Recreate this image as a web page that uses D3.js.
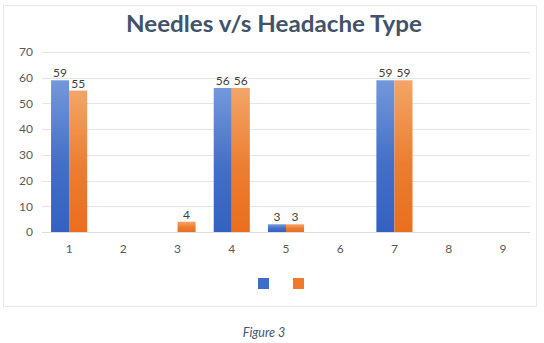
<!DOCTYPE html>
<html>
<head>
<meta charset="utf-8">
<script src="https://cdn.jsdelivr.net/npm/d3@7"></script>
<style>
  html, body { margin: 0; padding: 0; background: #fff; }
  svg { display: block; font-family: Lato, "Open Sans", sans-serif; }
</style>
</head>
<body>
<svg id="chart" width="544" height="343"></svg>
<script>
// Chart data
const categories = ["1", "2", "3", "4", "5", "6", "7", "8", "9"];
const seriesNames = ["Series1", "Series2"];
const series1 = [59, 0, 0, 56, 3, 0, 59, 0, 0];
const series2 = [55, 0, 4, 56, 3, 0, 59, 0, 0];
const yTicks = [0, 10, 20, 30, 40, 50, 60, 70];
const titleText = "Needles v/s Headache Type";
const captionText = "Figure 3";

const seriesValues = [series1, series2];
const colors = [
  { top: "#7398da", bottom: "#3461c1", solid: "#3f6cc6" },
  { top: "#f3a567", bottom: "#e96f1d", solid: "#f07a2a" }
];

const svg = d3.select("#chart");

// Gradients for the bars
const defs = svg.append("defs");
colors.forEach((c, i) => {
  const g = defs.append("linearGradient")
    .attr("id", "grad" + i)
    .attr("x1", 0).attr("y1", 0).attr("x2", 0).attr("y2", 1);
  g.append("stop").attr("offset", "0%").attr("stop-color", c.top);
  g.append("stop").attr("offset", "55%").attr("stop-color", d3.interpolateRgb(c.top, c.bottom)(0.75));
  g.append("stop").attr("offset", "100%").attr("stop-color", c.bottom);
});

// Outer chart frame
svg.append("rect")
  .attr("x", 3.5).attr("y", 5.5)
  .attr("width", 533).attr("height", 301)
  .attr("fill", "#fff")
  .attr("stroke", "#e6e8eb").attr("stroke-width", 1);

// Title
svg.append("text")
  .attr("x", 274).attr("y", 32)
  .attr("text-anchor", "middle")
  .attr("font-size", 23.5)
  .attr("font-weight", "bold")
  .attr("fill", "#42526a")
  .attr("textLength", 296)
  .attr("lengthAdjust", "spacingAndGlyphs")
  .text(titleText);

// Scales
const plot = { left: 42, right: 530, top: 52, bottom: 232 };
const x = d3.scaleBand().domain(categories).range([plot.left, plot.right]).padding(0);
const x1 = d3.scaleBand().domain(seriesNames)
  .range([x.bandwidth() * 0.167, x.bandwidth() * 0.833]).padding(0);
const y = d3.scaleLinear().domain([0, 70]).range([plot.bottom, plot.top]);

// Gridlines
svg.append("g")
  .selectAll("line")
  .data(yTicks)
  .join("line")
  .attr("x1", plot.left).attr("x2", plot.right)
  .attr("y1", d => Math.round(y(d)) + 0.5)
  .attr("y2", d => Math.round(y(d)) + 0.5)
  .attr("stroke", d => d === 0 ? "#d9dce1" : "#e3e6eb")
  .attr("stroke-width", 1);

// Y axis labels
const yAxis = d3.axisLeft(y).tickValues(yTicks).tickSize(0).tickPadding(0);
svg.append("g")
  .attr("transform", `translate(33,0)`)
  .call(yAxis)
  .call(g => g.select(".domain").remove())
  .call(g => g.selectAll("text")
    .attr("font-family", "Lato, 'Open Sans', sans-serif")
    .attr("font-size", 12)
    .attr("fill", "#595959"));

// X axis labels
const xAxis = d3.axisBottom(x).tickSize(0).tickPadding(0);
svg.append("g")
  .attr("transform", `translate(0,244)`)
  .call(xAxis)
  .call(g => g.select(".domain").remove())
  .call(g => g.selectAll("text")
    .attr("font-family", "Lato, 'Open Sans', sans-serif")
    .attr("font-size", 12)
    .attr("fill", "#595959"));

// Bars
const groups = svg.append("g")
  .selectAll("g")
  .data(categories)
  .join("g")
  .attr("transform", d => `translate(${x(d)},0)`);

const barData = (cat, ci) => seriesNames.map((s, si) => ({
  series: s, si, value: seriesValues[si][ci]
}));

groups.each(function(cat, ci) {
  const g = d3.select(this);
  const data = barData(cat, ci).filter(d => d.value > 0);
  g.selectAll("rect")
    .data(data)
    .join("rect")
    .attr("x", d => x1(d.series))
    .attr("width", x1.bandwidth())
    .attr("y", d => y(d.value))
    .attr("height", d => y(0) - y(d.value))
    .attr("fill", d => `url(#grad${d.si})`);
  g.selectAll("text")
    .data(data)
    .join("text")
    .attr("x", d => x1(d.series) + x1.bandwidth() / 2)
    .attr("y", d => y(d.value) - 3)
    .attr("text-anchor", "middle")
    .attr("font-size", 12)
    .attr("fill", "#404040")
    .text(d => d.value);
});

// Legend (entries without names)
const legend = svg.append("g");
seriesNames.forEach((s, i) => {
  legend.append("rect")
    .attr("x", 258 + i * 35)
    .attr("y", 278)
    .attr("width", 11).attr("height", 11)
    .attr("fill", colors[i].solid);
});

// Caption
svg.append("text")
  .attr("x", 264).attr("y", 337)
  .attr("text-anchor", "middle")
  .attr("font-size", 12.5)
  .attr("font-style", "italic")
  .attr("fill", "#44546a")
  .text(captionText);
</script>
</body>
</html>
